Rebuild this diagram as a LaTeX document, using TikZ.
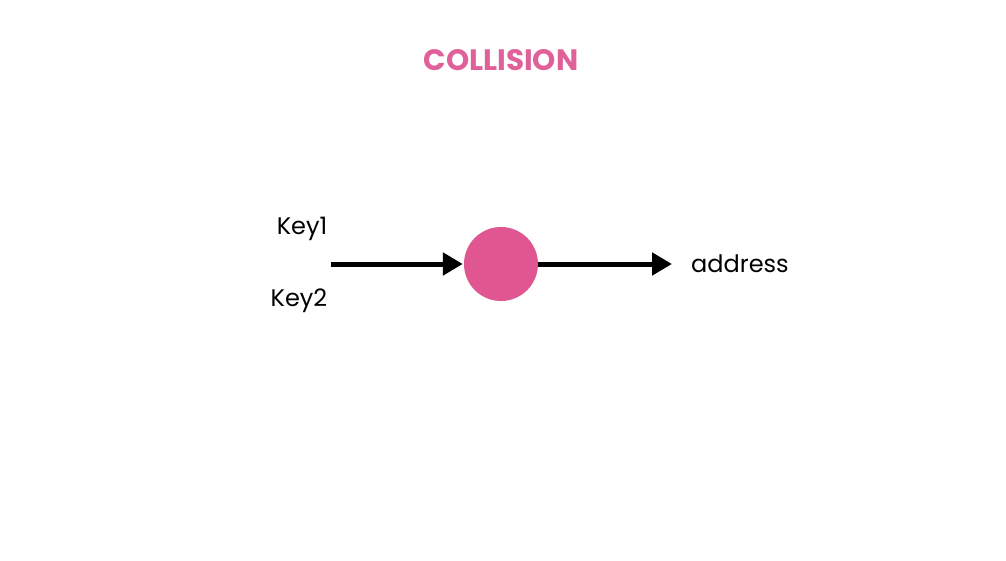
\documentclass[tikz,border=0pt]{standalone}
\usepackage{fontspec}
\setmainfont{Poppins}
\usetikzlibrary{arrows.meta}
\definecolor{pinkc}{HTML}{DF5690}
\definecolor{pinkt}{HTML}{E0609A}
\begin{document}
\begin{tikzpicture}[x=1pt,y=-1pt,
  lbl/.style={font=\fontsize{24}{28}\selectfont, inner sep=0pt, text=black},
  conn/.style={line width=5pt, -{Triangle[length=20pt,width=22pt]}, shorten >=1pt}]
\useasboundingbox (0,0) rectangle (1006,560);
\node[font=\fontsize{29.5}{34}\selectfont\bfseries, text=pinkt, inner sep=0pt] (title) at (501,60) {COLLISION};
\node[circle, fill=pinkc, minimum size=74pt, inner sep=0pt] (hash) at (501,264) {};
\coordinate (start) at (331,264);
\node[lbl] (k1) at (302,229) {Key1};
\node[lbl] (k2) at (299,301) {Key2};
\node[lbl, anchor=west] (addr) at (691,264) {address};
\coordinate (end) at (672,264);
\draw[conn] (start) -- (hash.west);
\draw[conn, shorten >=0pt] (hash.east) -- (end);
\end{tikzpicture}
\end{document}
